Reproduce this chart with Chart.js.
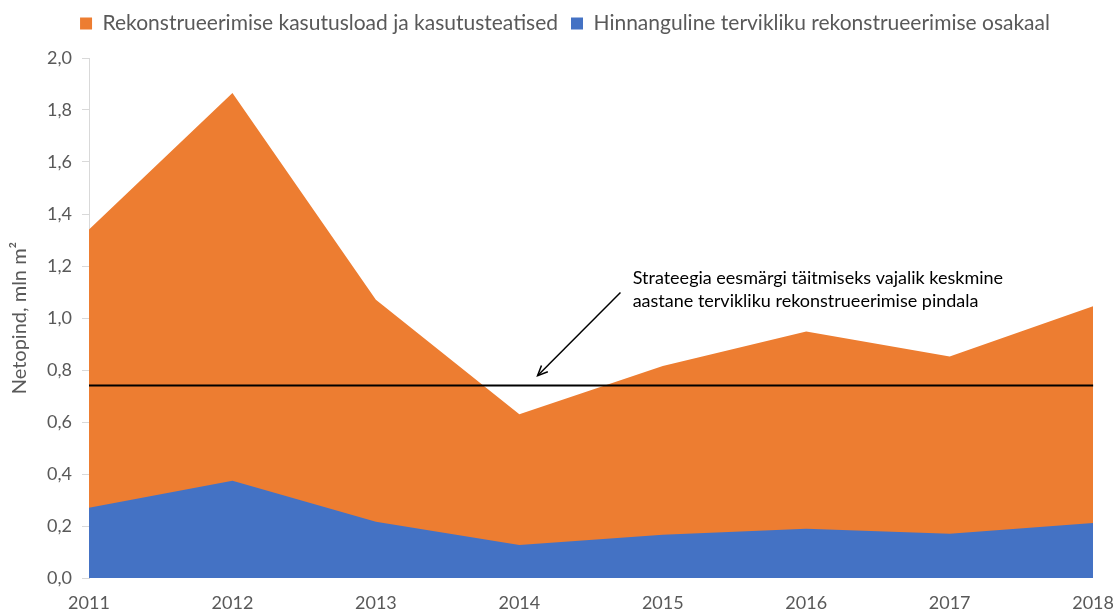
<!DOCTYPE html>
<html>
<head>
<meta charset="utf-8">
<script src="https://cdn.jsdelivr.net/npm/chart.js@4/dist/chart.umd.min.js"></script>
<style>
  html, body { margin: 0; padding: 0; background: #fff; }
  #wrap { width: 1120px; height: 611px; }
</style>
</head>
<body>
<div id="wrap"><canvas id="areaChart" width="1120" height="611"></canvas></div>
<script>
const years = ['2011', '2012', '2013', '2014', '2015', '2016', '2017', '2018'];
const permitsTotal = [1.34, 1.865, 1.07, 0.63, 0.815, 0.948, 0.852, 1.045];
const fullReconShare = [0.27, 0.374, 0.216, 0.127, 0.166, 0.189, 0.17, 0.212];
const targetArea = 0.74;
const noteLines = ['Strateegia eesmärgi täitmiseks vajalik keskmine', 'aastane tervikliku rekonstrueerimise pindala'];

const FONT = 'Lato, "Open Sans", sans-serif';
const GREY = '#595959';

// target line + arrow note, placed via the chart scales
const targetNote = {
  id: 'targetNote',
  afterDatasetsDraw(chart) {
    const { ctx, chartArea, scales: { x, y } } = chart;
    const yT = y.getPixelForValue(targetArea);
    ctx.save();
    ctx.strokeStyle = '#000';
    ctx.lineWidth = 2;
    ctx.beginPath();
    ctx.moveTo(chartArea.left, yT);
    ctx.lineTo(chartArea.right, yT);
    ctx.stroke();

    // arrow
    const x0 = x.getPixelForValue(3.705), y0 = y.getPixelForValue(1.098);
    const x1 = x.getPixelForValue(3.127), y1 = y.getPixelForValue(0.778);
    ctx.lineWidth = 1.5;
    ctx.beginPath();
    ctx.moveTo(x0, y0);
    ctx.lineTo(x1, y1);
    ctx.stroke();
    const ang = Math.atan2(y1 - y0, x1 - x0);
    ctx.beginPath();
    ctx.moveTo(x1 - 11 * Math.cos(ang - 0.42), y1 - 11 * Math.sin(ang - 0.42));
    ctx.lineTo(x1, y1);
    ctx.lineTo(x1 - 11 * Math.cos(ang + 0.42), y1 - 11 * Math.sin(ang + 0.42));
    ctx.stroke();

    ctx.fillStyle = '#000';
    ctx.font = '18px ' + FONT;
    ctx.textBaseline = 'middle';
    const tx = x.getPixelForValue(3.79);
    noteLines.forEach((t, i) => {
      ctx.fillText(t, tx, y.getPixelForValue(1.152) + i * 23);
    });
    ctx.restore();
  }
};

// extra room under the legend, and nudge it right a bit
const legendRoom = {
  id: 'legendRoom',
  beforeInit(chart) {
    const fit = chart.legend.fit;
    chart.legend.fit = function () {
      fit.bind(chart.legend)();
      this.height += 14;
    };
  },
  afterLayout(chart) {
    chart.legend.left += 10;
    chart.legend.right += 10;
  }
};

const ctx = document.getElementById('areaChart').getContext('2d');
new Chart(ctx, {
  type: 'line',
  data: {
    labels: years,
    datasets: [
      {
        label: 'Hinnanguline tervikliku rekonstrueerimise osakaal',
        data: fullReconShare,
        borderWidth: 0,
        borderColor: '#4472C4',
        backgroundColor: '#4472C4',
        fill: 'origin',
        pointRadius: 0,
        tension: 0
      },
      {
        label: 'Rekonstrueerimise kasutusload ja kasutusteatised',
        data: permitsTotal,
        borderWidth: 0,
        borderColor: '#ED7D31',
        backgroundColor: '#ED7D31',
        fill: 'origin',
        pointRadius: 0,
        tension: 0
      }
    ]
  },
  options: {
    responsive: false,
    animation: false,
    layout: { padding: { left: 0, right: 10, top: 0, bottom: 0 } },
    plugins: {
      legend: {
        reverse: true,
        labels: {
          boxWidth: 12,
          boxHeight: 12,
          padding: 13,
          color: GREY,
          font: { family: FONT, size: 21 }
        }
      },
      tooltip: { enabled: false }
    },
    scales: {
      x: {
        offset: false,
        afterFit(s) { s.height = 33; },
        grid: { display: false },
        border: { display: false },
        ticks: {
          color: GREY,
          padding: 6,
          maxRotation: 0,
          autoSkip: false,
          font: { family: FONT, size: 18 }
        }
      },
      y: {
        min: 0,
        max: 2,
        afterFit(s) { s.width = 89; },
        grid: { drawOnChartArea: false, drawTicks: true, tickLength: 7, color: '#d9d9d9' },
        border: { color: '#d9d9d9' },
        ticks: {
          stepSize: 0.2,
          color: GREY,
          padding: 10,
          font: { family: FONT, size: 18 },
          callback: v => v.toFixed(1).replace('.', ',')
        },
        title: {
          display: true,
          text: 'Netopind, mln m²',
          color: GREY,
          padding: { top: 8, bottom: 0 },
          font: { family: FONT, size: 20 }
        }
      }
    }
  },
  plugins: [targetNote, legendRoom]
});
</script>
</body>
</html>
